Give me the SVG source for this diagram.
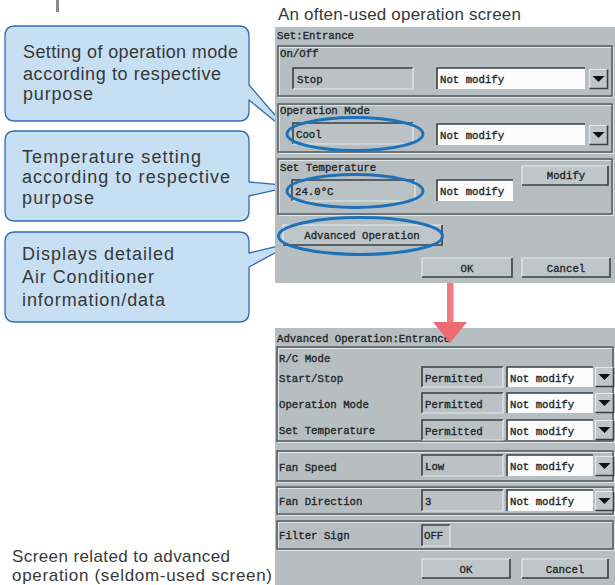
<svg xmlns="http://www.w3.org/2000/svg" width="615" height="585" viewBox="0 0 615 585">
  <style>
    .note { font-family: "Liberation Sans", Arial, sans-serif; font-size: 18px; fill: #383838; }
    .cap { font-family: "Liberation Sans", Arial, sans-serif; font-size: 17px; fill: #383838; }
    .bubble { fill: #c7dff2; stroke: #2f6db1; stroke-width: 1.3; stroke-linejoin: round; }
    .scr { fill: #b7bec1; }
    .t { font-family: "Liberation Mono", "DejaVu Sans Mono", monospace; font-size: 10.7px; fill: #23272a; stroke: #23272a; stroke-width: 0.35; }
    .tc { font-family: "Liberation Mono", "DejaVu Sans Mono", monospace; font-size: 10.7px; fill: #23272a; stroke: #23272a; stroke-width: 0.35; text-anchor: middle; }
    .grp { fill: none; stroke: #4d5457; stroke-width: 1.4; }
    .grpl { fill: none; stroke: #dfe4e6; stroke-width: 1; }
    .fld { fill: #bbc2c5; }
    .wfld { fill: #fbfbfb; }
    .dk { fill: none; stroke: #3a3f42; stroke-width: 1.6; }
    .lt { fill: none; stroke: #e6eaec; stroke-width: 1.2; }
    .btn { fill: #bfc6c9; }
    .ring { fill: none; stroke: #1c72b9; stroke-width: 3; }
  </style>
  <defs>
    <!-- drop-down button with its triangle -->
    <g id="drop">
      <rect class="btn" x="0" y="0" width="19" height="20"/>
      <polyline class="lt" points="0.5,19.5 0.5,0.5 18.5,0.5"/>
      <polyline class="dk" points="0.5,19.5 18.5,19.5 18.5,0.5"/>
      <path d="M3.5,7 H15.5 L9.5,13 Z" fill="#111"/>
    </g>
  </defs>

  <!-- cut-off stroke at the very top -->
  <rect x="56" y="0" width="3" height="12" fill="#8a8a8a"/>

  <!-- callouts -->
  <g id="callout-mode">
    <path class="bubble" d="M15,26 H239 Q249,26 249,36 V85 L293,136 L249,100 V111 Q249,121 239,121 H15 Q5,121 5,111 V36 Q5,26 15,26 Z"/>
    <text class="note" x="23" y="58" textLength="215" lengthAdjust="spacing">Setting of operation mode</text>
    <text class="note" x="23" y="80" textLength="198" lengthAdjust="spacing">according to respective</text>
    <text class="note" x="23" y="100" textLength="70" lengthAdjust="spacing">purpose</text>
  </g>
  <g id="callout-temp">
    <path class="bubble" d="M15,131 H239 Q249,131 249,141 V182 L293,186 L249,196 V211 Q249,221 239,221 H15 Q5,221 5,211 V141 Q5,131 15,131 Z"/>
    <text class="note" x="22" y="163" textLength="179" lengthAdjust="spacing">Temperature setting</text>
    <text class="note" x="22" y="183" textLength="208" lengthAdjust="spacing">according to respective</text>
    <text class="note" x="22" y="204" textLength="72" lengthAdjust="spacing">purpose</text>
  </g>
  <g id="callout-advanced">
    <path class="bubble" d="M15,232 H239 Q249,232 249,242 V253 L295,242 L249,267 V312 Q249,322 239,322 H15 Q5,322 5,312 V242 Q5,232 15,232 Z"/>
    <text class="note" x="22" y="260" textLength="152" lengthAdjust="spacing">Displays detailed</text>
    <text class="note" x="22" y="283" textLength="132" lengthAdjust="spacing">Air Conditioner</text>
    <text class="note" x="22" y="306" textLength="143" lengthAdjust="spacing">information/data</text>
  </g>

  <!-- operation screen -->
  <g id="screen-set">
    <text class="cap" x="278" y="20" textLength="243" lengthAdjust="spacing">An often-used operation screen</text>
    <rect class="scr" x="275" y="27" width="340" height="256"/>
    <text class="t" x="277" y="39">Set:Entrance</text>

    <!-- On/Off -->
    <rect class="grpl" x="279.5" y="47.5" width="334" height="50"/>
    <rect class="grp" x="278" y="46" width="334" height="50"/>
    <text class="t" x="280" y="57">On/Off</text>
    <rect class="fld" x="293" y="68" width="120" height="21"/>
    <polyline class="dk" points="293,89 293,68 413,68"/>
    <polyline class="lt" points="293,89 413,89 413,68"/>
    <text class="t" x="297" y="83">Stop</text>
    <rect class="wfld" x="437" y="68" width="148" height="21"/>
    <polyline class="dk" points="437,89 437,68 585,68"/>
    <text class="t" x="440" y="83">Not modify</text>
    <use href="#drop" x="589" y="69"/>

    <!-- Operation Mode -->
    <rect class="grpl" x="279.5" y="105.5" width="334" height="48"/>
    <rect class="grp" x="278" y="104" width="334" height="48"/>
    <text class="t" x="280" y="114">Operation Mode</text>
    <rect class="fld" x="293" y="123" width="120" height="21"/>
    <polyline class="dk" points="293,144 293,123 413,123"/>
    <polyline class="lt" points="293,144 413,144 413,123"/>
    <text class="t" x="296" y="138">Cool</text>
    <rect class="wfld" x="437" y="124" width="148" height="21"/>
    <polyline class="dk" points="437,145 437,124 585,124"/>
    <text class="t" x="440" y="139">Not modify</text>
    <use href="#drop" x="589" y="125"/>

    <!-- Set Temperature -->
    <rect class="grpl" x="279.5" y="160.5" width="334" height="55"/>
    <rect class="grp" x="278" y="159" width="334" height="55"/>
    <text class="t" x="280" y="171">Set Temperature</text>
    <rect class="fld" x="292" y="180" width="123" height="21"/>
    <polyline class="dk" points="292,201 292,180 415,180"/>
    <polyline class="lt" points="292,201 415,201 415,180"/>
    <text class="t" x="295" y="195">24.0°C</text>
    <rect class="wfld" x="437" y="180" width="76" height="21"/>
    <polyline class="dk" points="437,201 437,180 513,180"/>
    <text class="t" x="440" y="195">Not modify</text>
    <rect class="btn" x="522" y="166" width="86" height="19"/>
    <polyline class="lt" points="522,185 522,166 608,166"/>
    <polyline class="dk" points="522,185 608,185 608,166"/>
    <text class="tc" x="566" y="179">Modify</text>

    <!-- buttons -->
    <rect class="btn" x="283" y="225" width="159" height="20"/>
    <polyline class="lt" points="283,245 283,225 442,225"/>
    <polyline class="dk" points="283,245 442,245 442,225"/>
    <text class="tc" x="362" y="239">Advanced Operation</text>
    <rect class="btn" x="422" y="258" width="90" height="19"/>
    <polyline class="lt" points="422,277 422,258 512,258"/>
    <polyline class="dk" points="422,277 512,277 512,258"/>
    <text class="tc" x="467" y="272">OK</text>
    <rect class="btn" x="522" y="258" width="88" height="19"/>
    <polyline class="lt" points="522,277 522,258 610,258"/>
    <polyline class="dk" points="522,277 610,277 610,258"/>
    <text class="tc" x="566" y="272">Cancel</text>

    <!-- highlight rings -->
    <ellipse class="ring" cx="355" cy="134" rx="68" ry="16.5"/>
    <ellipse class="ring" cx="355" cy="191" rx="68" ry="16.5"/>
    <ellipse class="ring" cx="360.5" cy="236" rx="82" ry="18.5"/>
  </g>

  <!-- advanced operation screen -->
  <g id="screen-advanced">
    <rect class="scr" x="275" y="328" width="340" height="257"/>
    <text class="t" x="277" y="342">Advanced Operation:Entrance</text>

    <!-- R/C Mode -->
    <rect class="grpl" x="278.5" y="348.5" width="336" height="94"/>
    <rect class="grp" x="277" y="347" width="336" height="94"/>
    <text class="t" x="279" y="362">R/C Mode</text>

    <text class="t" x="279" y="382">Start/Stop</text>
    <rect class="fld" x="422" y="367" width="81" height="20"/>
    <polyline class="dk" points="422,387 422,367 503,367"/>
    <polyline class="lt" points="422,387 503,387 503,367"/>
    <text class="t" x="425" y="382">Permitted</text>
    <rect class="wfld" x="507" y="367" width="86" height="20"/>
    <polyline class="dk" points="507,387 507,367 593,367"/>
    <text class="t" x="510" y="382">Not modify</text>
    <use href="#drop" x="595" y="367"/>

    <text class="t" x="279" y="408">Operation Mode</text>
    <rect class="fld" x="422" y="393" width="81" height="20"/>
    <polyline class="dk" points="422,413 422,393 503,393"/>
    <polyline class="lt" points="422,413 503,413 503,393"/>
    <text class="t" x="425" y="408">Permitted</text>
    <rect class="wfld" x="507" y="393" width="86" height="20"/>
    <polyline class="dk" points="507,413 507,393 593,393"/>
    <text class="t" x="510" y="408">Not modify</text>
    <use href="#drop" x="595" y="393"/>

    <text class="t" x="279" y="434">Set Temperature</text>
    <rect class="fld" x="422" y="420" width="81" height="20"/>
    <polyline class="dk" points="422,440 422,420 503,420"/>
    <polyline class="lt" points="422,440 503,440 503,420"/>
    <text class="t" x="425" y="435">Permitted</text>
    <rect class="wfld" x="507" y="420" width="86" height="20"/>
    <polyline class="dk" points="507,440 507,420 593,420"/>
    <text class="t" x="510" y="435">Not modify</text>
    <use href="#drop" x="595" y="420"/>

    <!-- Fan Speed -->
    <rect class="grpl" x="278.5" y="452.5" width="336" height="30"/>
    <rect class="grp" x="277" y="451" width="336" height="30"/>
    <text class="t" x="279" y="471">Fan Speed</text>
    <rect class="fld" x="422" y="455" width="81" height="21"/>
    <polyline class="dk" points="422,476 422,455 503,455"/>
    <polyline class="lt" points="422,476 503,476 503,455"/>
    <text class="t" x="425" y="470">Low</text>
    <rect class="wfld" x="507" y="455" width="86" height="21"/>
    <polyline class="dk" points="507,476 507,455 593,455"/>
    <text class="t" x="510" y="470">Not modify</text>
    <use href="#drop" x="595" y="456"/>

    <!-- Fan Direction -->
    <rect class="grpl" x="278.5" y="488.5" width="336" height="27"/>
    <rect class="grp" x="277" y="487" width="336" height="27"/>
    <text class="t" x="279" y="505">Fan Direction</text>
    <rect class="fld" x="422" y="490" width="81" height="21"/>
    <polyline class="dk" points="422,511 422,490 503,490"/>
    <polyline class="lt" points="422,511 503,511 503,490"/>
    <text class="t" x="425" y="505">3</text>
    <rect class="wfld" x="507" y="490" width="86" height="21"/>
    <polyline class="dk" points="507,511 507,490 593,490"/>
    <text class="t" x="510" y="505">Not modify</text>
    <use href="#drop" x="595" y="491"/>

    <!-- Filter Sign -->
    <rect class="grpl" x="278.5" y="522.5" width="336" height="28"/>
    <rect class="grp" x="277" y="521" width="336" height="28"/>
    <text class="t" x="279" y="539">Filter Sign</text>
    <rect class="fld" x="422" y="525" width="28" height="21"/>
    <polyline class="dk" points="422,546 422,525 450,525"/>
    <polyline class="lt" points="422,546 450,546 450,525"/>
    <text class="t" x="424" y="539">OFF</text>

    <!-- buttons -->
    <rect class="btn" x="422" y="559" width="88" height="19"/>
    <polyline class="lt" points="422,578 422,559 510,559"/>
    <polyline class="dk" points="422,578 510,578 510,559"/>
    <text class="tc" x="466" y="573">OK</text>
    <rect class="btn" x="522" y="559" width="86" height="19"/>
    <polyline class="lt" points="522,578 522,559 608,559"/>
    <polyline class="dk" points="522,578 608,578 608,559"/>
    <text class="tc" x="565" y="573">Cancel</text>
  </g>

  <!-- caption for the lower screen -->
  <g id="caption-advanced">
    <text class="cap" x="12" y="562" textLength="218" lengthAdjust="spacing">Screen related to advanced</text>
    <text class="cap" x="12" y="581" textLength="260" lengthAdjust="spacing">operation (seldom-used screen)</text>
  </g>

  <!-- connectors -->
  <g id="connectors">
    <rect x="447" y="283" width="6.5" height="40" fill="#f27a7e"/>
    <path d="M433,322 H467 L450,343 Z" fill="#ee6a72"/>
  </g>
</svg>
